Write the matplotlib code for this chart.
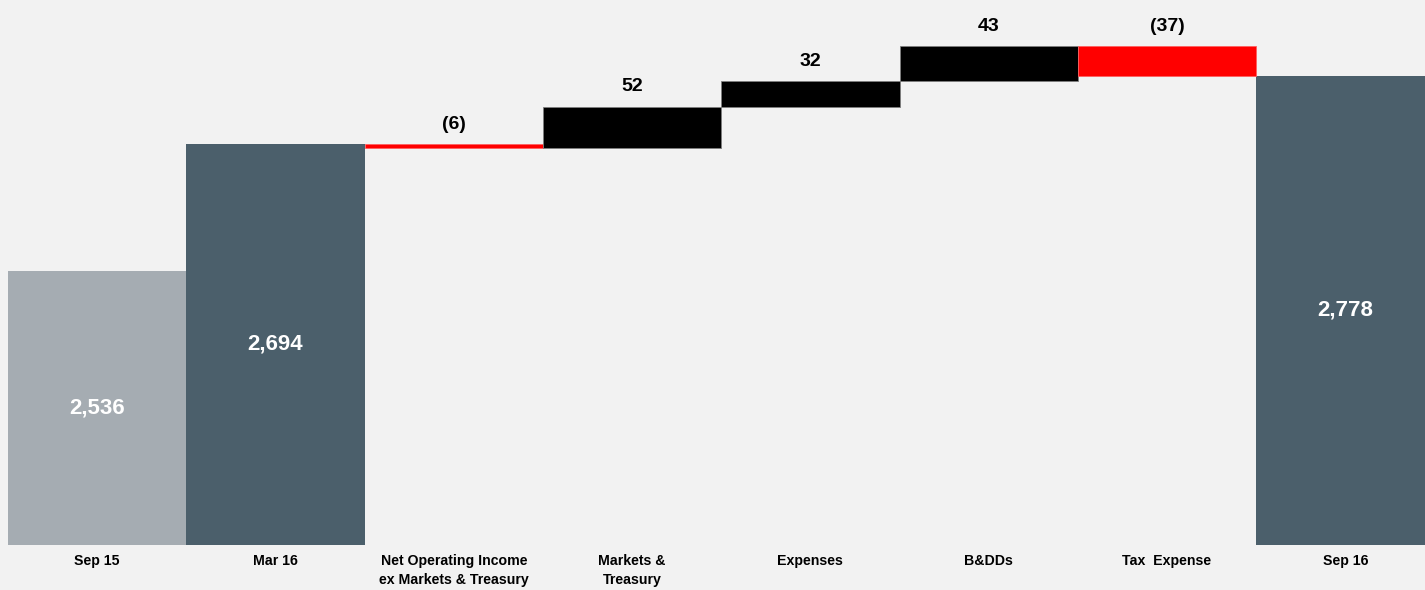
import numpy as np
import matplotlib.pyplot as plt

categorias = ['Sep 15', 'Mar 16', 'Net Operating Income\nex Markets & Treasury',
              'Markets &\nTreasury', 'Expenses', 'B&DDs', 'Tax  Expense', 'Sep 16']
totales = {'Sep 15': 2536, 'Mar 16': 2694, 'Sep 16': 2778}
cambios = [-6, 52, 32, 43, -37]

plt.rcParams['font.family'] = ['Liberation Sans', 'DejaVu Sans']

fig = plt.figure(figsize=(14.25, 5.9), dpi=100, facecolor='#f2f2f2')
ax = fig.add_axes([8/1425, 45.3/590, 1417/1425, 544.7/590])
ax.set_facecolor('#f2f2f2')

# barras de total
x = np.arange(len(categorias))
ax.bar(0, totales['Sep 15'], width=1.0, color='#a5acb2')
ax.bar(1, totales['Mar 16'], width=1.0, color='#4b5f6b')
ax.bar(7, totales['Sep 16'], width=1.0, color='#4b5f6b')

# barras flotantes
nivel = totales['Mar 16']
for i, d in enumerate(cambios):
    pos = i + 2
    color = 'black' if d > 0 else '#ff0000'
    base = nivel if d > 0 else nivel + d
    ax.bar(pos, abs(d), bottom=base, width=1.0, color=color,
           edgecolor='#7f7f7f' if d > 0 else '#ff6060', linewidth=0.6)
    texto = '{0}'.format(d) if d > 0 else '({0})'.format(-d)
    ax.annotate(texto, (pos, base + abs(d)), xytext=(0, 8), textcoords='offset points',
                ha='center', va='bottom', fontsize=14, fontweight='bold')
    nivel += d

ymin, ymax = 2197, 2872
for pos, nombre in [(0, 'Sep 15'), (1, 'Mar 16'), (7, 'Sep 16')]:
    v = totales[nombre]
    ax.text(pos, (v + ymin) / 2, '{0:,}'.format(v), ha='center', va='center',
            color='white', fontsize=16, fontweight='bold')

ax.set_ylim(ymin, ymax)
ax.set_xlim(-0.5, 7.447)
ax.set_xticks(x)
ax.set_xticklabels(categorias, fontsize=10.2, fontweight='bold', linespacing=1.4, va='top')
ax.tick_params(axis='x', length=0, pad=7)
ax.set_yticks([])
for s in ax.spines.values():
    s.set_visible(False)

plt.savefig('out.png', dpi=100, facecolor='#f2f2f2')
